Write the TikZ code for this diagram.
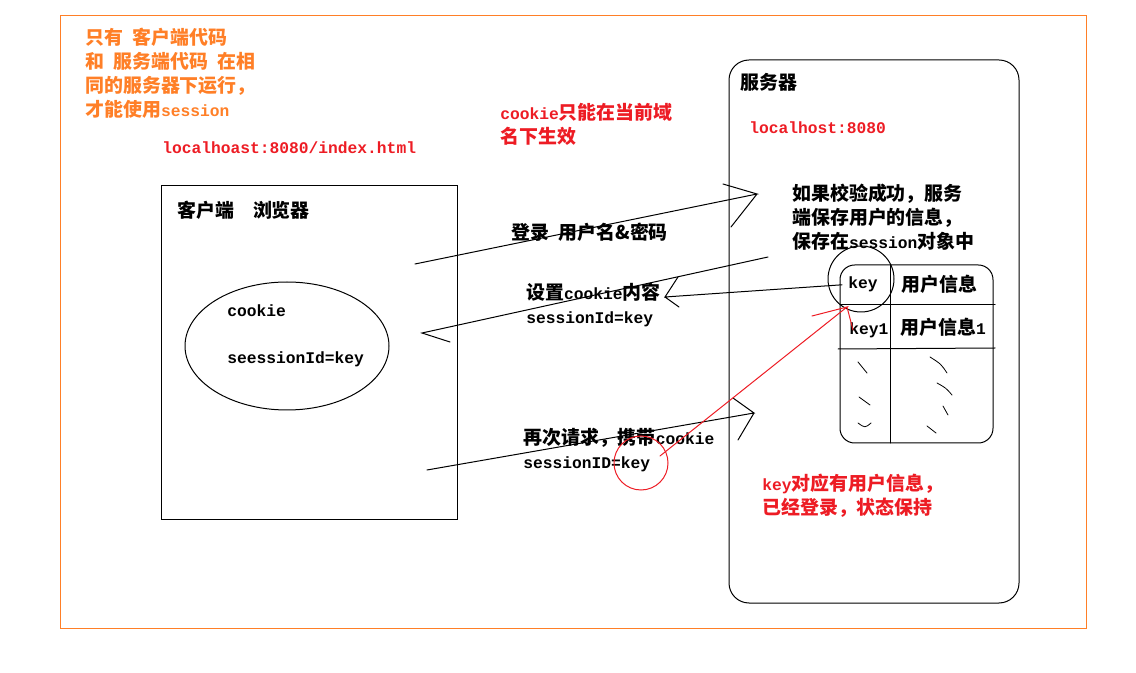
\documentclass[tikz,border=0pt]{standalone}
\usepackage{fontspec}
\setmainfont{Noto Sans CJK SC}
\setmonofont{Liberation Mono}
\usetikzlibrary{positioning, shapes.geometric}
\definecolor{PaintOrange}{RGB}{255,127,39}
\definecolor{PaintRed}{RGB}{237,28,36}
\newcommand{\en}[1]{{\ttfamily\fontsize{12.2}{18}\selectfont #1}}

\begin{document}
\begin{tikzpicture}[x=0.75pt, y=-0.75pt,
    font=\bfseries\fontsize{14.2}{18}\selectfont,
    txt/.style={anchor=base west, inner sep=0pt, align=left},
    orangetxt/.style={txt, text=PaintOrange},
    redtxt/.style={txt, text=PaintRed},
    hand/.style={line width=0.75pt, line cap=round},
    ring/.style={draw, circle, hand, inner sep=0pt},
]
\useasboundingbox (0,0) rectangle (1136,673);

% rahmen
\draw[PaintOrange, line width=0.75pt] (60,16) rectangle (1086,628);

% (multi-line nodes sit on the baseline of their last line)
\node[orangetxt] (scopeNote) at (85,117) {只有\enspace 客户端代码\\和\enspace 服务端代码\enspace 在相\\同的服务器下运行，\\才能使用\en{session}};
\node[redtxt] (urlClient) at (162,154) {\en{localhoast:8080/index.html}};
\node[redtxt] (cookieNote) at (500,144) {\en{cookie}只能在当前域\\名下生效};

% client
\draw[hand] (161,186) rectangle (457,520);
\node[txt] (clientTitle) at (177,218) {客户端\quad 浏览器};
\node[draw, ellipse, hand, minimum width=153pt, minimum height=96pt] (cookieJar) at (287,346) {};
\node[txt] (cookieName) at (227,317) {\en{cookie}};
\node[txt] (cookieValue) at (227,364) {\en{seessionId=key}};

% server
\draw[hand, rounded corners=15pt] (729,60) rectangle (1019,603);
\node[txt] (serverTitle) at (740,90) {服务器};
\node[redtxt] (urlServer) at (749,134) {\en{localhost:8080}};
\node[txt] (verifyNote) at (792,249) {如果校验成功，服务\\端保存用户的信息，\\保存在\en{session}对象中};

% session table
\draw[hand, rounded corners=11pt] (840,265) rectangle (993,443);
\draw[hand] (890,265) -- (890,443);
\draw[hand] (840,305) -- (995,305);
\draw[hand] (838,349) -- (995,348);
\node[txt] (keyA) at (848,289) {\en{key}};
\node[txt] (infoA) at (901,292) {用户信息};
\node[txt] (keyB) at (849,335) {\en{key1}};
\node[txt] (infoB) at (900,335) {用户信息\en{1}};
\node[ring, minimum size=49.5pt] (keyRing) at (861,279) {};
\foreach \a/\b/\c in {{858,362}/{862,368}/{867,373}, {859,397}/{865,401}/{870,405},
    {858,423}/{865,428}/{871,423}, {930,357}/{941,364}/{947,373},
    {937,383}/{946,388}/{952,395}, {943,406}/{945,411}/{948,415},
    {927,426}/{932,429}/{936,433}}
    \draw[hand, line width=0.6pt] (\a) .. controls (\b) .. (\c);

% requests and replies
\coordinate (loginFrom) at (415,264);
\coordinate (loginTip) at (757,194);
\draw[hand] (loginFrom) -- (loginTip) -- (723,184) (loginTip) -- (731,227);
\node[txt] (loginLabel) at (511,240) {登录\enspace 用户名\&密码};

\coordinate (replyFrom) at (768,257);
\coordinate (replyTip) at (422,333);
\draw[hand] (replyFrom) -- (replyTip) -- (450,342);

\coordinate (keyTip) at (665,297);
\draw[hand] ([xshift=-4.5pt]keyA.west) -- (keyTip) -- ++(13,-20) (keyTip) -- ++(14,10);
\node[txt] (setLabel) at (526,324) {设置\en{cookie}内容\\\en{sessionId=key}};

\coordinate (againFrom) at (427,470);
\coordinate (againTip) at (754,413);
\draw[hand] (againFrom) -- (againTip) -- (733,398) (againTip) -- (738,440);
\node[txt] (againLabel) at (523,469) {再次请求，携带\en{cookie}\\\en{sessionID=key}};

% lookup
\node[ring, draw=PaintRed, minimum size=40.5pt] (idRing) at (641,463) {};
\coordinate (lookupTip) at (847,307);
\draw[hand, PaintRed] ([shift={(19,-7)}]idRing.center) -- (lookupTip) -- (812,316) (lookupTip) -- (853,330);
\node[redtxt] (keyNote) at (762,515) {\en{key}对应有用户信息，\\已经登录，状态保持};

\end{tikzpicture}
\end{document}
